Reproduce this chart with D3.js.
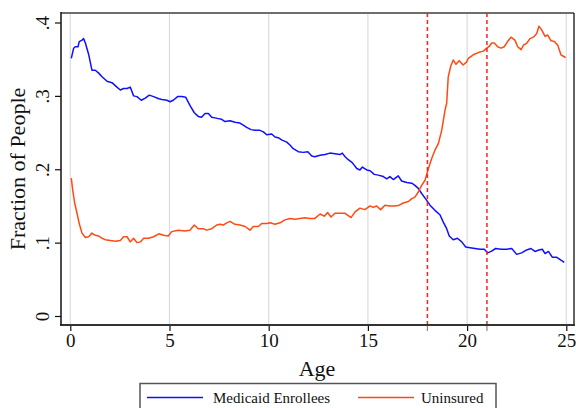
<!DOCTYPE html>
<html>
<head>
<meta charset="utf-8">
<script src="https://cdn.jsdelivr.net/npm/d3@7"></script>
<style>
  body { margin: 0; background: #fff; }
  svg text { font-family: "Liberation Serif", "Times New Roman", serif; fill: #111; }
</style>
</head>
<body>
<svg id="chart" width="576" height="408"></svg>
<script>
// Medicaid enrollees, fraction by age
var medicaidAge = [0.05, 0.17, 0.25, 0.39, 0.45, 0.59, 0.67, 0.76, 0.93, 1.09, 1.26, 1.43, 1.6, 1.85, 2.1, 2.35, 2.52, 2.69, 2.86, 3.02,
  3.19, 3.36, 3.58, 3.78, 3.98, 4.2, 4.46, 4.62, 4.87, 5.03, 5.19, 5.41, 5.61, 5.82, 6.03, 6.25, 6.45, 6.62, 6.79, 6.96,
  7.13, 7.29, 7.46, 7.63, 7.8, 8.05, 8.3, 8.55, 8.72, 8.89, 9.11, 9.31, 9.56, 9.73, 9.9, 10.15, 10.32, 10.48, 10.65, 10.91,
  11.07, 11.24, 11.49, 11.74, 11.97, 12.17, 12.33, 12.59, 12.84, 13.09, 13.34, 13.59, 13.71, 13.85, 14.01, 14.21, 14.44, 14.6, 14.72, 14.94,
  15.11, 15.32, 15.52, 15.78, 15.95, 16.11, 16.28, 16.53, 16.7, 16.96, 17.21, 17.37, 17.54, 17.71, 17.93, 18.13, 18.38, 18.63, 18.8, 18.97,
  19.1, 19.3, 19.51, 19.73, 19.93, 20.15, 20.4, 20.65, 20.87, 21.04, 21.21, 21.44, 21.71, 22.0, 22.25, 22.5, 22.75, 23.0, 23.22, 23.42,
  23.62, 23.79, 23.93, 24.1, 24.3, 24.52, 24.73, 24.9];
var medicaidVal = [.351, .365, .367, .367, .374, .376, .378, .372, .356, .335, .335, .331, .326, .320, .318, .312, .308, .310, .310, .312,
  .300, .299, .294, .297, .301, .299, .296, .295, .294, .292, .294, .299, .299, .298, .287, .277, .272, .271, .276, .276,
  .271, .270, .269, .268, .265, .266, .264, .263, .260, .257, .254, .253, .253, .251, .247, .248, .244, .243, .240, .237,
  .233, .228, .224, .223, .224, .218, .217, .219, .220, .222, .221, .220, .222, .217, .213, .209, .201, .199, .203, .199,
  .198, .193, .192, .190, .187, .190, .186, .191, .184, .182, .181, .178, .174, .167, .159, .151, .144, .138, .128, .119,
  .109, .104, .106, .101, .094, .093, .092, .091, .091, .086, .088, .092, .091, .091, .092, .084, .086, .090, .092, .088,
  .090, .091, .085, .088, .080, .080, .076, .073];

// Uninsured, fraction by age
var uninsuredAge = [0.05, 0.12, 0.22, 0.34, 0.45, 0.59, 0.76, 0.93, 1.09, 1.26, 1.43, 1.6, 1.76, 2.02, 2.27, 2.52, 2.69, 2.86, 3.02, 3.19,
  3.36, 3.53, 3.7, 3.95, 4.2, 4.46, 4.71, 4.94, 5.11, 5.44, 5.78, 6.03, 6.25, 6.45, 6.7, 6.87, 7.13, 7.38, 7.55, 7.71,
  7.88, 8.05, 8.3, 8.55, 8.81, 9.06, 9.22, 9.48, 9.65, 9.9, 10.07, 10.32, 10.57, 10.82, 11.07, 11.32, 11.57, 11.82, 12.07, 12.33,
  12.59, 12.8, 12.97, 13.14, 13.34, 13.59, 13.85, 14.15, 14.35, 14.6, 14.85, 15.11, 15.27, 15.44, 15.64, 15.86, 16.11, 16.36, 16.58, 16.78,
  17.04, 17.21, 17.37, 17.54, 17.71, 17.88, 18.05, 18.22, 18.38, 18.55, 18.72, 18.89, 18.97, 19.05, 19.17, 19.3, 19.44, 19.6, 19.8, 19.97,
  20.06, 20.31, 20.56, 20.82, 20.99, 21.1, 21.24, 21.37, 21.54, 21.71, 21.87, 22.04, 22.21, 22.41, 22.55, 22.72, 22.84, 23.01, 23.17, 23.34,
  23.51, 23.62, 23.76, 23.93, 24.06, 24.23, 24.4, 24.57, 24.73, 24.85, 24.97];
var uninsuredVal = [.188, .172, .154, .140, .126, .113, .107, .108, .113, .110, .109, .106, .104, .103, .102, .103, .108, .108, .101, .106,
  .100, .101, .106, .106, .108, .112, .110, .109, .115, .117, .116, .117, .124, .119, .119, .117, .119, .124, .125, .124,
  .127, .129, .125, .124, .122, .117, .122, .122, .126, .126, .127, .125, .127, .131, .133, .132, .133, .134, .133, .133,
  .139, .136, .141, .135, .140, .140, .140, .134, .142, .147, .145, .150, .148, .150, .145, .151, .150, .150, .151, .154,
  .156, .160, .162, .169, .178, .185, .201, .215, .226, .235, .253, .281, .290, .326, .340, .349, .343, .348, .342, .346,
  .351, .356, .359, .361, .365, .367, .372, .372, .367, .365, .367, .374, .380, .376, .367, .363, .369, .372, .378, .380,
  .385, .395, .390, .381, .383, .375, .374, .369, .356, .354, .352];

var xTicks = [0, 5, 10, 15, 20, 25];
var xMarks = [18, 21];
var yTicks = [0, .1, .2, .3, .4];
var yTickLabels = ["0", ".1", ".2", ".3", ".4"];
var seriesNames = ["Medicaid Enrollees", "Uninsured"];
var seriesColors = ["#1010ff", "#ff4a12"];

var svg = d3.select("#chart");
var frame = {left: 61, right: 574, top: 13, bottom: 325};

var x = d3.scaleLinear().domain([0, 25]).range([70.3, 566.3]);
var y = d3.scaleLinear().domain([0, 0.4]).range([316, 22.5]);

// vertical grid
svg.append("g").selectAll("line").data(xTicks).enter().append("line")
  .attr("x1", function(d) { return x(d); }).attr("x2", function(d) { return x(d); })
  .attr("y1", frame.top).attr("y2", frame.bottom)
  .attr("stroke", "#dcdcdc").attr("stroke-width", 1.2);

// frame top / right
svg.append("line").attr("x1", frame.left).attr("x2", frame.right).attr("y1", frame.top).attr("y2", frame.top)
  .attr("stroke", "#6e6e6e").attr("stroke-width", 2);
svg.append("line").attr("x1", frame.right).attr("x2", frame.right).attr("y1", frame.top).attr("y2", frame.bottom)
  .attr("stroke", "#111").attr("stroke-width", 1.3);

// series lines
var line = d3.line().x(function(d) { return x(d[0]); }).y(function(d) { return y(d[1]); });
var series = [d3.zip(medicaidAge, medicaidVal), d3.zip(uninsuredAge, uninsuredVal)];
series.forEach(function(s, i) {
  svg.append("path").datum(s)
    .attr("fill", "none")
    .attr("stroke", seriesColors[i])
    .attr("stroke-width", 1.5)
    .attr("stroke-linejoin", "round")
    .attr("d", line);
});

// dashed reference lines
svg.append("g").selectAll("line").data(xMarks).enter().append("line")
  .attr("x1", function(d) { return x(d); }).attr("x2", function(d) { return x(d); })
  .attr("y1", frame.top).attr("y2", frame.bottom)
  .attr("stroke", "#ff2020").attr("stroke-width", 1.5).attr("stroke-dasharray", "4,3");

// x axis
var xAxis = d3.axisBottom(x).tickValues(xTicks).tickSize(6).tickSizeOuter(0).tickPadding(3);
var gx = svg.append("g").attr("transform", "translate(0," + frame.bottom + ")").call(xAxis);
gx.select(".domain").remove();
gx.selectAll(".tick line").attr("stroke", "#111").attr("stroke-width", 1.2);
gx.selectAll(".tick text").attr("font-size", 19).attr("font-family", "Liberation Serif").attr("fill", "#111");
svg.append("g").selectAll("line").data(xMarks).enter().append("line")
  .attr("x1", function(d) { return x(d); }).attr("x2", function(d) { return x(d); })
  .attr("y1", frame.bottom).attr("y2", frame.bottom + 6)
  .attr("stroke", "#888").attr("stroke-width", 1.2);
svg.append("line").attr("x1", frame.left - 1).attr("x2", frame.right + 1).attr("y1", frame.bottom).attr("y2", frame.bottom)
  .attr("stroke", "#333").attr("stroke-width", 2.2);

// y axis
var yAxis = d3.axisLeft(y).tickValues(yTicks).tickSize(6).tickSizeOuter(0)
  .tickFormat(function(d, i) { return yTickLabels[i]; });
var gy = svg.append("g").attr("transform", "translate(" + frame.left + ",0)").call(yAxis);
gy.select(".domain").remove();
gy.selectAll(".tick line").attr("stroke", "#111").attr("stroke-width", 1.2);
gy.selectAll(".tick text")
  .attr("font-size", 19).attr("font-family", "Liberation Serif").attr("fill", "#111")
  .attr("x", null).attr("dy", null)
  .attr("text-anchor", "middle")
  .attr("transform", "translate(-12,0) rotate(-90)");
svg.append("line").attr("x1", frame.left).attr("x2", frame.left).attr("y1", frame.top - 1).attr("y2", frame.bottom)
  .attr("stroke", "#111").attr("stroke-width", 1.5);

// axis titles
svg.append("text").attr("x", 317).attr("y", 376).attr("text-anchor", "middle")
  .attr("font-size", 22).text("Age");
svg.append("text").attr("transform", "translate(25,169) rotate(-90)").attr("text-anchor", "middle")
  .attr("font-size", 22).text("Fraction of People");

// legend
var legend = svg.append("g");
legend.append("rect").attr("x", 140).attr("y", 383.5).attr("width", 356).attr("height", 40)
  .attr("fill", "#fff").attr("stroke", "#555").attr("stroke-width", 1.5);
var legendPos = [{line: 147, text: 213}, {line: 358, text: 421}];
seriesNames.forEach(function(name, i) {
  legend.append("line").attr("x1", legendPos[i].line).attr("x2", legendPos[i].line + 56)
    .attr("y1", 397.5).attr("y2", 397.5).attr("stroke", seriesColors[i]).attr("stroke-width", 1.5);
  legend.append("text").attr("x", legendPos[i].text).attr("y", 403).attr("font-size", 15).text(name);
});
</script>
</body>
</html>
